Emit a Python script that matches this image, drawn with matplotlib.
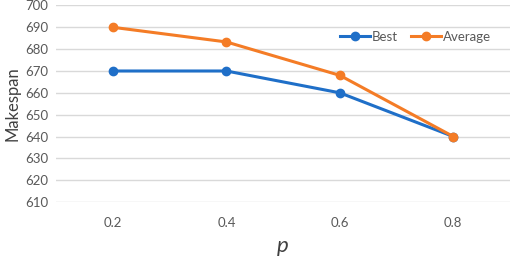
import matplotlib
matplotlib.use("Agg")
import matplotlib.pyplot as plt

# values
p_labels = ["0.2", "0.4", "0.6", "0.8"]
best = [670, 670, 660, 640]
average = [690, 683.3, 668, 640]
y_ticks = list(range(610, 701, 10))

plt.rcParams["font.family"] = ["Lato", "DejaVu Sans"]

fig = plt.figure(figsize=(5.12, 2.61), dpi=100)
ax = fig.add_axes([0.11, 0.226, 0.886, 0.753])

x = list(range(len(p_labels)))
ax.plot(x, best, color="#1F6FC8", lw=2.2, marker="o", ms=6, label="Best", zorder=3)
ax.plot(x, average, color="#F47C26", lw=2.2, marker="o", ms=6, label="Average", zorder=3)

ax.set_xlim(-0.5, 3.5)
ax.set_ylim(610, 700)
ax.set_yticks(y_ticks)
ax.set_xticks(x)
ax.set_xticklabels(p_labels)
ax.grid(axis="y", color="#D9D9D9", lw=1)
ax.set_axisbelow(True)
for s in ax.spines.values():
    s.set_visible(False)
ax.tick_params(length=0, labelsize=9.5, labelcolor="#595959", pad=6)
ax.tick_params(axis="x", pad=11)

ax.set_ylabel("Makespan", fontsize=12, color="#404040", labelpad=3)
ax.set_xlabel("p", fontsize=16, style="italic", color="#404040", labelpad=5)

ax.legend(loc="upper right", bbox_to_anchor=(0.985, 0.93), ncol=2, frameon=False,
          fontsize=9.5, labelcolor="#595959", handlelength=2.2, handletextpad=0.2,
          columnspacing=1.0)

fig.savefig("out.png", dpi=100)
